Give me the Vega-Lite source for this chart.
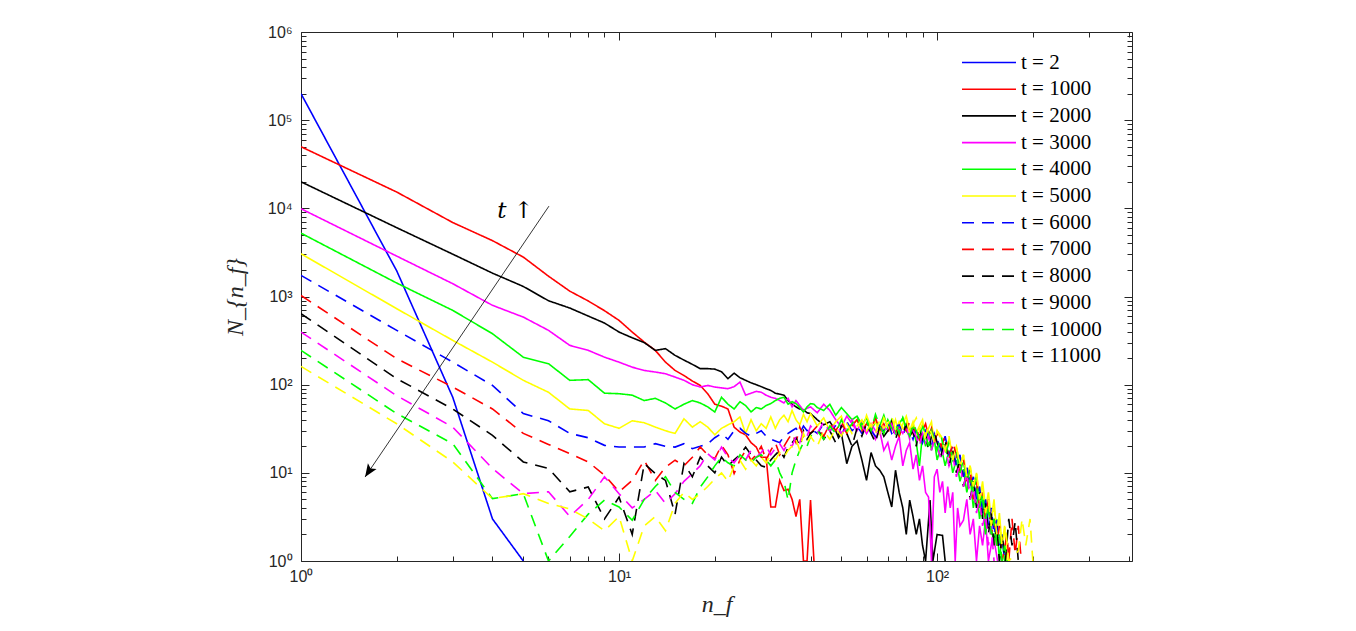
{
"$schema":"https://vega.github.io/schema/vega-lite/v6.json",
"width":831,"height":529,
"autosize":"none",
"padding":{"left":301,"top":32,"right":224,"bottom":70},
"background":"white",
"config":{
 "view":{"stroke":null},
 "axis":{"grid":false,"domainColor":"#262626","tickColor":"#262626","labelColor":"#262626","labelFont":"Liberation Sans","labelFontSize":16,"domainWidth":1,"tickWidth":1,"titleFont":"Liberation Serif","titleFontStyle":"italic","titleFontWeight":"normal","titleFontSize":24,"titleColor":"#262626","labelOverlap":false,"labelFlush":false,"labelBound":false},
 "legend":{"orient":"none","legendX":673.5,"legendY":16,"symbolType":"M-2,0L2,0","symbolSize":729,"symbolStrokeWidth":1.6,"labelFont":"Liberation Serif","labelFontSize":21,"labelColor":"#000000","rowPadding":1.7,"labelOffset":17.5,"padding":0}
},
"datasets":{
"arrow":[{"x0":6.02,"y0":10590,"x1":1.59,"y1":8.96}],
"label":[{"x":4.71,"y":9300,"txt":"t ↑"}],
"curves":[
{"t":2,"n":1,"N":200000},{"t":2,"n":2,"N":1950},{"t":2,"n":3,"N":72},{"t":2,"n":4,"N":3},{"t":2,"n":5,"N":1},
{"t":1000,"n":1,"N":50000},{"t":1000,"n":2,"N":15300},{"t":1000,"n":3,"N":6900},{"t":1000,"n":4,"N":4300},{"t":1000,"n":5,"N":2800},{"t":1000,"n":6,"N":1700},{"t":1000,"n":7,"N":1150},{"t":1000,"n":8,"N":890},{"t":1000,"n":9,"N":690},{"t":1000,"n":10,"N":536},{"t":1000,"n":11,"N":395},{"t":1000,"n":12,"N":304},{"t":1000,"n":13,"N":245},{"t":1000,"n":14,"N":180},{"t":1000,"n":15,"N":145},{"t":1000,"n":16,"N":127},{"t":1000,"n":17,"N":110},{"t":1000,"n":18,"N":98},{"t":1000,"n":19,"N":79},{"t":1000,"n":20,"N":60},{"t":1000,"n":21,"N":57},{"t":1000,"n":22,"N":53},{"t":1000,"n":23,"N":33},{"t":1000,"n":24,"N":29},{"t":1000,"n":25,"N":27},{"t":1000,"n":26,"N":22},{"t":1000,"n":27,"N":19.6},{"t":1000,"n":28,"N":15},{"t":1000,"n":29,"N":15},{"t":1000,"n":30,"N":4.1},{"t":1000,"n":31,"N":4.1},{"t":1000,"n":32,"N":8.2},{"t":1000,"n":33,"N":6.3},{"t":1000,"n":34,"N":6.5},{"t":1000,"n":35,"N":5},{"t":1000,"n":36,"N":3.2},{"t":1000,"n":37,"N":5},{"t":1000,"n":38,"N":1},{"t":1000,"n":39,"N":1},{"t":1000,"n":40,"N":4.9},{"t":1000,"n":41,"N":1},
{"t":2000,"n":1,"N":20000},{"t":2000,"n":2,"N":6030},{"t":2000,"n":3,"N":3020},{"t":2000,"n":4,"N":1840},{"t":2000,"n":5,"N":1300},{"t":2000,"n":6,"N":895},{"t":2000,"n":7,"N":740},{"t":2000,"n":8,"N":600},{"t":2000,"n":9,"N":500},{"t":2000,"n":10,"N":395},{"t":2000,"n":11,"N":340},{"t":2000,"n":12,"N":300},{"t":2000,"n":13,"N":245},{"t":2000,"n":14,"N":256},{"t":2000,"n":15,"N":215},{"t":2000,"n":16,"N":190},{"t":2000,"n":17,"N":170},{"t":2000,"n":18,"N":152},{"t":2000,"n":19,"N":152},{"t":2000,"n":20,"N":150},{"t":2000,"n":21,"N":140},{"t":2000,"n":22,"N":117},{"t":2000,"n":23,"N":135},{"t":2000,"n":24,"N":120},{"t":2000,"n":25,"N":112},{"t":2000,"n":26,"N":105},{"t":2000,"n":27,"N":100},{"t":2000,"n":28,"N":95},{"t":2000,"n":29,"N":90},{"t":2000,"n":30,"N":86},{"t":2000,"n":31,"N":80},{"t":2000,"n":32,"N":78},{"t":2000,"n":33,"N":76},{"t":2000,"n":34,"N":66},{"t":2000,"n":35,"N":60},{"t":2000,"n":36,"N":56},{"t":2000,"n":37,"N":53},{"t":2000,"n":38,"N":52},{"t":2000,"n":39,"N":48},{"t":2000,"n":40,"N":47},{"t":2000,"n":42,"N":40},{"t":2000,"n":44,"N":35},{"t":2000,"n":46,"N":38},{"t":2000,"n":48,"N":30},{"t":2000,"n":49,"N":25},{"t":2000,"n":50,"N":28},{"t":2000,"n":52,"N":12.7},{"t":2000,"n":54,"N":20},{"t":2000,"n":56,"N":23},{"t":2000,"n":58,"N":14},{"t":2000,"n":60,"N":8.2},{"t":2000,"n":62,"N":17},{"t":2000,"n":64,"N":12},{"t":2000,"n":66,"N":10.7},{"t":2000,"n":68,"N":9},{"t":2000,"n":70,"N":6},{"t":2000,"n":72,"N":4.1},{"t":2000,"n":74,"N":10.7},{"t":2000,"n":76,"N":6},{"t":2000,"n":78,"N":4},{"t":2000,"n":80,"N":2},{"t":2000,"n":82,"N":4.9},{"t":2000,"n":84,"N":3.2},{"t":2000,"n":86,"N":2},{"t":2000,"n":88,"N":3},{"t":2000,"n":90,"N":1.5},{"t":2000,"n":92,"N":1},{"t":2000,"n":95,"N":4.9},{"t":2000,"n":97,"N":1},{"t":2000,"n":100,"N":2},{"t":2000,"n":104,"N":1.95},{"t":2000,"n":106,"N":1},
{"t":3000,"n":1,"N":9900},{"t":3000,"n":2,"N":2870},{"t":3000,"n":3,"N":1397},{"t":3000,"n":4,"N":794},{"t":3000,"n":5,"N":584},{"t":3000,"n":6,"N":413},{"t":3000,"n":7,"N":279},{"t":3000,"n":8,"N":245},{"t":3000,"n":9,"N":205},{"t":3000,"n":10,"N":180},{"t":3000,"n":11,"N":158},{"t":3000,"n":12,"N":145},{"t":3000,"n":13,"N":139},{"t":3000,"n":14,"N":133},{"t":3000,"n":15,"N":122},{"t":3000,"n":16,"N":112},{"t":3000,"n":17,"N":100},{"t":3000,"n":18,"N":94},{"t":3000,"n":19,"N":98},{"t":3000,"n":20,"N":94},{"t":3000,"n":21,"N":92},{"t":3000,"n":22,"N":90},{"t":3000,"n":23,"N":95},{"t":3000,"n":24,"N":107},{"t":3000,"n":25,"N":76},{"t":3000,"n":26,"N":80},{"t":3000,"n":27,"N":84},{"t":3000,"n":28,"N":82},{"t":3000,"n":29,"N":76},{"t":3000,"n":30,"N":72},{"t":3000,"n":31,"N":70},{"t":3000,"n":32,"N":66},{"t":3000,"n":33,"N":62},{"t":3000,"n":34,"N":70},{"t":3000,"n":35,"N":56},{"t":3000,"n":36,"N":66},{"t":3000,"n":37,"N":58},{"t":3000,"n":38,"N":51},{"t":3000,"n":39,"N":54},{"t":3000,"n":40,"N":56},{"t":3000,"n":42,"N":48},{"t":3000,"n":44,"N":60},{"t":3000,"n":46,"N":51},{"t":3000,"n":48,"N":40},{"t":3000,"n":50,"N":33},{"t":3000,"n":52,"N":44},{"t":3000,"n":54,"N":36},{"t":3000,"n":56,"N":30},{"t":3000,"n":58,"N":38},{"t":3000,"n":60,"N":28},{"t":3000,"n":62,"N":34},{"t":3000,"n":64,"N":24},{"t":3000,"n":66,"N":30},{"t":3000,"n":68,"N":18},{"t":3000,"n":70,"N":22},{"t":3000,"n":72,"N":14},{"t":3000,"n":74,"N":20},{"t":3000,"n":76,"N":26},{"t":3000,"n":78,"N":12},{"t":3000,"n":80,"N":18},{"t":3000,"n":82,"N":22},{"t":3000,"n":84,"N":11},{"t":3000,"n":86,"N":16},{"t":3000,"n":88,"N":8.2},{"t":3000,"n":90,"N":12},{"t":3000,"n":92,"N":6},{"t":3000,"n":94,"N":5.3},{"t":3000,"n":96,"N":1},{"t":3000,"n":98,"N":9},{"t":3000,"n":100,"N":11},{"t":3000,"n":102,"N":6},{"t":3000,"n":104,"N":8},{"t":3000,"n":106,"N":3.5},{"t":3000,"n":108,"N":7},{"t":3000,"n":110,"N":4},{"t":3000,"n":112,"N":6},{"t":3000,"n":114,"N":1},{"t":3000,"n":116,"N":4},{"t":3000,"n":118,"N":2.5},{"t":3000,"n":121,"N":2.9},{"t":3000,"n":124,"N":5},{"t":3000,"n":127,"N":2},{"t":3000,"n":130,"N":3},{"t":3000,"n":133,"N":1},{"t":3000,"n":136,"N":2.5},{"t":3000,"n":139,"N":1.5},{"t":3000,"n":142,"N":3},{"t":3000,"n":145,"N":1},{"t":3000,"n":150,"N":2},{"t":3000,"n":155,"N":1},
{"t":4000,"n":1,"N":5230},{"t":4000,"n":2,"N":1420},{"t":4000,"n":3,"N":696},{"t":4000,"n":4,"N":378},{"t":4000,"n":5,"N":205},{"t":4000,"n":6,"N":173},{"t":4000,"n":7,"N":112},{"t":4000,"n":8,"N":114},{"t":4000,"n":9,"N":80},{"t":4000,"n":10,"N":79},{"t":4000,"n":11,"N":76},{"t":4000,"n":12,"N":66},{"t":4000,"n":13,"N":70},{"t":4000,"n":14,"N":62},{"t":4000,"n":15,"N":53},{"t":4000,"n":16,"N":60},{"t":4000,"n":17,"N":66},{"t":4000,"n":18,"N":62},{"t":4000,"n":19,"N":56},{"t":4000,"n":20,"N":49},{"t":4000,"n":21,"N":72},{"t":4000,"n":22,"N":60},{"t":4000,"n":23,"N":53},{"t":4000,"n":24,"N":64},{"t":4000,"n":25,"N":58},{"t":4000,"n":26,"N":49},{"t":4000,"n":27,"N":55},{"t":4000,"n":28,"N":53},{"t":4000,"n":29,"N":58},{"t":4000,"n":30,"N":61},{"t":4000,"n":31,"N":66},{"t":4000,"n":32,"N":70},{"t":4000,"n":33,"N":72},{"t":4000,"n":34,"N":60},{"t":4000,"n":35,"N":64},{"t":4000,"n":36,"N":61},{"t":4000,"n":37,"N":55},{"t":4000,"n":38,"N":49},{"t":4000,"n":39,"N":56},{"t":4000,"n":40,"N":61},{"t":4000,"n":41,"N":60},{"t":4000,"n":42,"N":55},{"t":4000,"n":44,"N":51},{"t":4000,"n":46,"N":60},{"t":4000,"n":48,"N":45},{"t":4000,"n":50,"N":55},{"t":4000,"n":52,"N":47},{"t":4000,"n":54,"N":40},{"t":4000,"n":56,"N":44},{"t":4000,"n":58,"N":35},{"t":4000,"n":60,"N":42},{"t":4000,"n":62,"N":30},{"t":4000,"n":64,"N":38},{"t":4000,"n":66,"N":34},{"t":4000,"n":68,"N":45},{"t":4000,"n":70,"N":32},{"t":4000,"n":72,"N":40},{"t":4000,"n":74,"N":28},{"t":4000,"n":76,"N":36},{"t":4000,"n":78,"N":42},{"t":4000,"n":80,"N":30},{"t":4000,"n":82,"N":26},{"t":4000,"n":84,"N":34},{"t":4000,"n":86,"N":22},{"t":4000,"n":88,"N":12},{"t":4000,"n":90,"N":28},{"t":4000,"n":92,"N":20},{"t":4000,"n":94,"N":30},{"t":4000,"n":96,"N":18},{"t":4000,"n":98,"N":24},{"t":4000,"n":100,"N":14},{"t":4000,"n":103,"N":20},{"t":4000,"n":106,"N":12},{"t":4000,"n":109,"N":18},{"t":4000,"n":112,"N":10},{"t":4000,"n":115,"N":14},{"t":4000,"n":118,"N":8},{"t":4000,"n":121,"N":11},{"t":4000,"n":124,"N":6},{"t":4000,"n":127,"N":9},{"t":4000,"n":130,"N":4},{"t":4000,"n":133,"N":7},{"t":4000,"n":136,"N":3},{"t":4000,"n":139,"N":5},{"t":4000,"n":142,"N":2},{"t":4000,"n":145,"N":4},{"t":4000,"n":148,"N":2.5},{"t":4000,"n":151,"N":1.5},{"t":4000,"n":154,"N":3},{"t":4000,"n":157,"N":1},{"t":4000,"n":160,"N":2},{"t":4000,"n":163,"N":1},
{"t":5000,"n":1,"N":3055},{"t":5000,"n":2,"N":727},{"t":5000,"n":3,"N":318},{"t":5000,"n":4,"N":180},{"t":5000,"n":5,"N":112},{"t":5000,"n":6,"N":82},{"t":5000,"n":7,"N":53},{"t":5000,"n":8,"N":51},{"t":5000,"n":9,"N":36},{"t":5000,"n":10,"N":32},{"t":5000,"n":11,"N":39},{"t":5000,"n":12,"N":37},{"t":5000,"n":13,"N":33},{"t":5000,"n":14,"N":30},{"t":5000,"n":15,"N":28},{"t":5000,"n":16,"N":41},{"t":5000,"n":17,"N":33},{"t":5000,"n":18,"N":38},{"t":5000,"n":19,"N":33},{"t":5000,"n":20,"N":27},{"t":5000,"n":21,"N":32},{"t":5000,"n":22,"N":35},{"t":5000,"n":23,"N":38},{"t":5000,"n":24,"N":43},{"t":5000,"n":25,"N":28},{"t":5000,"n":26,"N":40},{"t":5000,"n":27,"N":30},{"t":5000,"n":28,"N":36},{"t":5000,"n":29,"N":32},{"t":5000,"n":30,"N":43},{"t":5000,"n":31,"N":32},{"t":5000,"n":32,"N":40},{"t":5000,"n":33,"N":45},{"t":5000,"n":34,"N":38},{"t":5000,"n":35,"N":51},{"t":5000,"n":36,"N":40},{"t":5000,"n":37,"N":35},{"t":5000,"n":38,"N":46},{"t":5000,"n":39,"N":38},{"t":5000,"n":40,"N":47},{"t":5000,"n":42,"N":34},{"t":5000,"n":44,"N":42},{"t":5000,"n":46,"N":30},{"t":5000,"n":48,"N":38},{"t":5000,"n":50,"N":44},{"t":5000,"n":52,"N":28},{"t":5000,"n":54,"N":36},{"t":5000,"n":56,"N":40},{"t":5000,"n":58,"N":30},{"t":5000,"n":60,"N":45},{"t":5000,"n":62,"N":33},{"t":5000,"n":64,"N":38},{"t":5000,"n":66,"N":28},{"t":5000,"n":68,"N":42},{"t":5000,"n":70,"N":34},{"t":5000,"n":72,"N":30},{"t":5000,"n":74,"N":40},{"t":5000,"n":76,"N":26},{"t":5000,"n":78,"N":36},{"t":5000,"n":80,"N":44},{"t":5000,"n":82,"N":30},{"t":5000,"n":84,"N":38},{"t":5000,"n":86,"N":28},{"t":5000,"n":88,"N":34},{"t":5000,"n":90,"N":40},{"t":5000,"n":92,"N":24},{"t":5000,"n":94,"N":32},{"t":5000,"n":96,"N":38},{"t":5000,"n":98,"N":22},{"t":5000,"n":100,"N":30},{"t":5000,"n":103,"N":26},{"t":5000,"n":106,"N":18},{"t":5000,"n":109,"N":24},{"t":5000,"n":112,"N":16},{"t":5000,"n":115,"N":20},{"t":5000,"n":118,"N":12},{"t":5000,"n":121,"N":16},{"t":5000,"n":124,"N":9},{"t":5000,"n":127,"N":12},{"t":5000,"n":130,"N":7},{"t":5000,"n":133,"N":10},{"t":5000,"n":136,"N":5},{"t":5000,"n":139,"N":8},{"t":5000,"n":142,"N":4},{"t":5000,"n":145,"N":6},{"t":5000,"n":148,"N":3},{"t":5000,"n":151,"N":5},{"t":5000,"n":154,"N":2},{"t":5000,"n":157,"N":3.5},{"t":5000,"n":160,"N":1.5},{"t":5000,"n":163,"N":2.5},{"t":5000,"n":166,"N":1},
{"t":6000,"n":1,"N":1735},{"t":6000,"n":2,"N":413},{"t":6000,"n":3,"N":180},{"t":6000,"n":4,"N":98},{"t":6000,"n":5,"N":47},{"t":6000,"n":6,"N":39},{"t":6000,"n":7,"N":28},{"t":6000,"n":8,"N":25},{"t":6000,"n":9,"N":20.5},{"t":6000,"n":10,"N":19.6},{"t":6000,"n":11,"N":19.6},{"t":6000,"n":12,"N":19.6},{"t":6000,"n":13,"N":21.4},{"t":6000,"n":14,"N":20},{"t":6000,"n":15,"N":19.6},{"t":6000,"n":16,"N":21.4},{"t":6000,"n":17,"N":18.8},{"t":6000,"n":18,"N":20},{"t":6000,"n":19,"N":21.4},{"t":6000,"n":20,"N":25},{"t":6000,"n":21,"N":28},{"t":6000,"n":22,"N":24},{"t":6000,"n":23,"N":30},{"t":6000,"n":24,"N":32},{"t":6000,"n":25,"N":28},{"t":6000,"n":26,"N":26},{"t":6000,"n":27,"N":28},{"t":6000,"n":28,"N":30},{"t":6000,"n":29,"N":26},{"t":6000,"n":30,"N":24},{"t":6000,"n":31,"N":23},{"t":6000,"n":32,"N":22},{"t":6000,"n":33,"N":26},{"t":6000,"n":34,"N":28},{"t":6000,"n":35,"N":30},{"t":6000,"n":36,"N":32},{"t":6000,"n":37,"N":28},{"t":6000,"n":38,"N":34},{"t":6000,"n":39,"N":30},{"t":6000,"n":40,"N":32},{"t":6000,"n":42,"N":28},{"t":6000,"n":44,"N":36},{"t":6000,"n":46,"N":30},{"t":6000,"n":48,"N":34},{"t":6000,"n":50,"N":26},{"t":6000,"n":52,"N":38},{"t":6000,"n":54,"N":30},{"t":6000,"n":56,"N":34},{"t":6000,"n":58,"N":28},{"t":6000,"n":60,"N":36},{"t":6000,"n":62,"N":30},{"t":6000,"n":64,"N":26},{"t":6000,"n":66,"N":34},{"t":6000,"n":68,"N":30},{"t":6000,"n":70,"N":38},{"t":6000,"n":72,"N":28},{"t":6000,"n":74,"N":32},{"t":6000,"n":76,"N":36},{"t":6000,"n":78,"N":26},{"t":6000,"n":80,"N":34},{"t":6000,"n":82,"N":30},{"t":6000,"n":84,"N":24},{"t":6000,"n":86,"N":32},{"t":6000,"n":88,"N":28},{"t":6000,"n":90,"N":22},{"t":6000,"n":92,"N":30},{"t":6000,"n":94,"N":26},{"t":6000,"n":96,"N":20},{"t":6000,"n":98,"N":28},{"t":6000,"n":100,"N":24},{"t":6000,"n":103,"N":18},{"t":6000,"n":106,"N":26},{"t":6000,"n":109,"N":16},{"t":6000,"n":112,"N":20},{"t":6000,"n":115,"N":12},{"t":6000,"n":118,"N":16},{"t":6000,"n":121,"N":9},{"t":6000,"n":124,"N":12},{"t":6000,"n":127,"N":7},{"t":6000,"n":130,"N":9},{"t":6000,"n":133,"N":5},{"t":6000,"n":136,"N":7},{"t":6000,"n":139,"N":3.5},{"t":6000,"n":142,"N":5},{"t":6000,"n":145,"N":2.5},{"t":6000,"n":148,"N":4},{"t":6000,"n":151,"N":2},{"t":6000,"n":154,"N":3},{"t":6000,"n":157,"N":1.5},{"t":6000,"n":160,"N":2},{"t":6000,"n":163,"N":1},
{"t":7000,"n":1,"N":1028},{"t":7000,"n":2,"N":197},{"t":7000,"n":3,"N":94},{"t":7000,"n":4,"N":53},{"t":7000,"n":5,"N":28},{"t":7000,"n":6,"N":21},{"t":7000,"n":7,"N":16.5},{"t":7000,"n":8,"N":13.3},{"t":7000,"n":9,"N":9.4},{"t":7000,"n":10,"N":6.1},{"t":7000,"n":11,"N":8.2},{"t":7000,"n":12,"N":13.9},{"t":7000,"n":13,"N":8.2},{"t":7000,"n":14,"N":11.6},{"t":7000,"n":15,"N":13.9},{"t":7000,"n":16,"N":12},{"t":7000,"n":17,"N":15},{"t":7000,"n":18,"N":19.6},{"t":7000,"n":19,"N":16},{"t":7000,"n":20,"N":14.5},{"t":7000,"n":21,"N":20.5},{"t":7000,"n":22,"N":16},{"t":7000,"n":23,"N":9.8},{"t":7000,"n":24,"N":14},{"t":7000,"n":25,"N":18},{"t":7000,"n":26,"N":13.9},{"t":7000,"n":27,"N":16},{"t":7000,"n":28,"N":20},{"t":7000,"n":29,"N":14},{"t":7000,"n":30,"N":18},{"t":7000,"n":31,"N":22},{"t":7000,"n":32,"N":16},{"t":7000,"n":33,"N":20},{"t":7000,"n":34,"N":24},{"t":7000,"n":35,"N":28},{"t":7000,"n":36,"N":22},{"t":7000,"n":37,"N":33},{"t":7000,"n":38,"N":26},{"t":7000,"n":39,"N":30},{"t":7000,"n":40,"N":28},{"t":7000,"n":42,"N":34},{"t":7000,"n":44,"N":26},{"t":7000,"n":46,"N":36},{"t":7000,"n":48,"N":30},{"t":7000,"n":50,"N":38},{"t":7000,"n":52,"N":28},{"t":7000,"n":54,"N":34},{"t":7000,"n":56,"N":40},{"t":7000,"n":58,"N":30},{"t":7000,"n":60,"N":36},{"t":7000,"n":62,"N":32},{"t":7000,"n":64,"N":42},{"t":7000,"n":66,"N":30},{"t":7000,"n":68,"N":36},{"t":7000,"n":70,"N":28},{"t":7000,"n":72,"N":38},{"t":7000,"n":74,"N":32},{"t":7000,"n":76,"N":26},{"t":7000,"n":78,"N":34},{"t":7000,"n":80,"N":30},{"t":7000,"n":82,"N":38},{"t":7000,"n":84,"N":28},{"t":7000,"n":86,"N":34},{"t":7000,"n":88,"N":24},{"t":7000,"n":90,"N":30},{"t":7000,"n":92,"N":36},{"t":7000,"n":94,"N":26},{"t":7000,"n":96,"N":32},{"t":7000,"n":98,"N":22},{"t":7000,"n":100,"N":28},{"t":7000,"n":103,"N":20},{"t":7000,"n":106,"N":26},{"t":7000,"n":109,"N":14},{"t":7000,"n":112,"N":22},{"t":7000,"n":115,"N":16},{"t":7000,"n":118,"N":10},{"t":7000,"n":121,"N":14},{"t":7000,"n":124,"N":8},{"t":7000,"n":127,"N":11},{"t":7000,"n":130,"N":5},{"t":7000,"n":133,"N":8},{"t":7000,"n":136,"N":4},{"t":7000,"n":139,"N":6},{"t":7000,"n":142,"N":3},{"t":7000,"n":145,"N":5},{"t":7000,"n":148,"N":2},{"t":7000,"n":151,"N":3},{"t":7000,"n":154,"N":1.5},{"t":7000,"n":157,"N":2.5},{"t":7000,"n":160,"N":1},{"t":7000,"n":166,"N":2},{"t":7000,"n":168,"N":1},{"t":7000,"n":172,"N":3},{"t":7000,"n":176,"N":1.2},{"t":7000,"n":180,"N":2.5},{"t":7000,"n":184,"N":1},
{"t":8000,"n":1,"N":638},{"t":8000,"n":2,"N":117},{"t":8000,"n":3,"N":53},{"t":8000,"n":4,"N":26.6},{"t":8000,"n":5,"N":13.3},{"t":8000,"n":6,"N":11.2},{"t":8000,"n":7,"N":6.1},{"t":8000,"n":8,"N":6.9},{"t":8000,"n":9,"N":3},{"t":8000,"n":10,"N":5.3},{"t":8000,"n":11,"N":2},{"t":8000,"n":12,"N":12.7},{"t":8000,"n":13,"N":9.8},{"t":8000,"n":14,"N":8.2},{"t":8000,"n":15,"N":3.4},{"t":8000,"n":16,"N":12.7},{"t":8000,"n":17,"N":9},{"t":8000,"n":18,"N":15.1},{"t":8000,"n":19,"N":12},{"t":8000,"n":20,"N":10},{"t":8000,"n":21,"N":15.1},{"t":8000,"n":22,"N":12},{"t":8000,"n":23,"N":14},{"t":8000,"n":24,"N":16},{"t":8000,"n":25,"N":19.6},{"t":8000,"n":26,"N":16},{"t":8000,"n":27,"N":14},{"t":8000,"n":28,"N":12},{"t":8000,"n":29,"N":11.6},{"t":8000,"n":30,"N":14},{"t":8000,"n":31,"N":16},{"t":8000,"n":32,"N":18},{"t":8000,"n":33,"N":15},{"t":8000,"n":34,"N":19.6},{"t":8000,"n":35,"N":22},{"t":8000,"n":36,"N":25},{"t":8000,"n":37,"N":20},{"t":8000,"n":38,"N":30},{"t":8000,"n":39,"N":24},{"t":8000,"n":40,"N":28},{"t":8000,"n":42,"N":32},{"t":8000,"n":44,"N":24},{"t":8000,"n":46,"N":30},{"t":8000,"n":48,"N":22},{"t":8000,"n":50,"N":34},{"t":8000,"n":52,"N":28},{"t":8000,"n":54,"N":20},{"t":8000,"n":56,"N":32},{"t":8000,"n":58,"N":26},{"t":8000,"n":60,"N":36},{"t":8000,"n":62,"N":28},{"t":8000,"n":64,"N":22},{"t":8000,"n":66,"N":34},{"t":8000,"n":68,"N":26},{"t":8000,"n":70,"N":30},{"t":8000,"n":72,"N":38},{"t":8000,"n":74,"N":24},{"t":8000,"n":76,"N":32},{"t":8000,"n":78,"N":28},{"t":8000,"n":80,"N":36},{"t":8000,"n":82,"N":26},{"t":8000,"n":84,"N":30},{"t":8000,"n":86,"N":20},{"t":8000,"n":88,"N":32},{"t":8000,"n":90,"N":24},{"t":8000,"n":92,"N":28},{"t":8000,"n":94,"N":18},{"t":8000,"n":96,"N":26},{"t":8000,"n":98,"N":30},{"t":8000,"n":100,"N":22},{"t":8000,"n":103,"N":16},{"t":8000,"n":106,"N":24},{"t":8000,"n":109,"N":12},{"t":8000,"n":112,"N":18},{"t":8000,"n":115,"N":10},{"t":8000,"n":118,"N":14},{"t":8000,"n":121,"N":7},{"t":8000,"n":124,"N":10},{"t":8000,"n":127,"N":5},{"t":8000,"n":130,"N":8},{"t":8000,"n":133,"N":4},{"t":8000,"n":136,"N":6},{"t":8000,"n":139,"N":3},{"t":8000,"n":142,"N":4.5},{"t":8000,"n":145,"N":2},{"t":8000,"n":148,"N":3.5},{"t":8000,"n":151,"N":1.5},{"t":8000,"n":154,"N":2.5},{"t":8000,"n":157,"N":1},{"t":8000,"n":160,"N":2},{"t":8000,"n":164,"N":1},{"t":8000,"n":168,"N":3},{"t":8000,"n":172,"N":1.5},{"t":8000,"n":176,"N":2.8},{"t":8000,"n":180,"N":1},
{"t":9000,"n":1,"N":395},{"t":9000,"n":2,"N":75},{"t":9000,"n":3,"N":33},{"t":9000,"n":4,"N":11.2},{"t":9000,"n":5,"N":5.8},{"t":9000,"n":6,"N":6.1},{"t":9000,"n":7,"N":3.2},{"t":9000,"n":8,"N":5},{"t":9000,"n":9,"N":9},{"t":9000,"n":10,"N":5.8},{"t":9000,"n":11,"N":4},{"t":9000,"n":12,"N":5},{"t":9000,"n":13,"N":6.3},{"t":9000,"n":14,"N":4.5},{"t":9000,"n":15,"N":5.8},{"t":9000,"n":16,"N":8},{"t":9000,"n":17,"N":9.8},{"t":9000,"n":18,"N":12},{"t":9000,"n":19,"N":16.5},{"t":9000,"n":20,"N":14},{"t":9000,"n":21,"N":19.6},{"t":9000,"n":22,"N":15},{"t":9000,"n":23,"N":13},{"t":9000,"n":24,"N":16},{"t":9000,"n":25,"N":14},{"t":9000,"n":26,"N":18},{"t":9000,"n":27,"N":15},{"t":9000,"n":28,"N":17},{"t":9000,"n":29,"N":20},{"t":9000,"n":30,"N":16},{"t":9000,"n":31,"N":19},{"t":9000,"n":32,"N":21.4},{"t":9000,"n":33,"N":18},{"t":9000,"n":34,"N":22},{"t":9000,"n":35,"N":20},{"t":9000,"n":36,"N":26},{"t":9000,"n":37,"N":22},{"t":9000,"n":38,"N":30},{"t":9000,"n":39,"N":26},{"t":9000,"n":40,"N":34},{"t":9000,"n":42,"N":28},{"t":9000,"n":44,"N":38},{"t":9000,"n":46,"N":30},{"t":9000,"n":48,"N":36},{"t":9000,"n":50,"N":28},{"t":9000,"n":52,"N":32},{"t":9000,"n":54,"N":40},{"t":9000,"n":56,"N":30},{"t":9000,"n":58,"N":34},{"t":9000,"n":60,"N":28},{"t":9000,"n":62,"N":36},{"t":9000,"n":64,"N":30},{"t":9000,"n":66,"N":26},{"t":9000,"n":68,"N":34},{"t":9000,"n":70,"N":30},{"t":9000,"n":72,"N":36},{"t":9000,"n":74,"N":26},{"t":9000,"n":76,"N":32},{"t":9000,"n":78,"N":28},{"t":9000,"n":80,"N":34},{"t":9000,"n":82,"N":24},{"t":9000,"n":84,"N":30},{"t":9000,"n":86,"N":26},{"t":9000,"n":88,"N":20},{"t":9000,"n":90,"N":28},{"t":9000,"n":92,"N":22},{"t":9000,"n":94,"N":26},{"t":9000,"n":96,"N":18},{"t":9000,"n":98,"N":24},{"t":9000,"n":100,"N":20},{"t":9000,"n":103,"N":14},{"t":9000,"n":106,"N":20},{"t":9000,"n":109,"N":12},{"t":9000,"n":112,"N":16},{"t":9000,"n":115,"N":9},{"t":9000,"n":118,"N":13},{"t":9000,"n":121,"N":7},{"t":9000,"n":124,"N":10},{"t":9000,"n":127,"N":5},{"t":9000,"n":130,"N":7},{"t":9000,"n":133,"N":3.5},{"t":9000,"n":136,"N":5},{"t":9000,"n":139,"N":2.5},{"t":9000,"n":142,"N":3.5},{"t":9000,"n":145,"N":1.5},{"t":9000,"n":148,"N":2.5},{"t":9000,"n":151,"N":1},
{"t":10000,"n":1,"N":245},{"t":10000,"n":2,"N":47},{"t":10000,"n":3,"N":21.4},{"t":10000,"n":4,"N":5.1},{"t":10000,"n":5,"N":5.8},{"t":10000,"n":6,"N":1},{"t":10000,"n":7,"N":1.9},{"t":10000,"n":8,"N":3.4},{"t":10000,"n":9,"N":4.9},{"t":10000,"n":10,"N":4.1},{"t":10000,"n":11,"N":2.9},{"t":10000,"n":12,"N":5},{"t":10000,"n":13,"N":7},{"t":10000,"n":14,"N":9},{"t":10000,"n":15,"N":6},{"t":10000,"n":16,"N":5},{"t":10000,"n":17,"N":4.5},{"t":10000,"n":18,"N":6.9},{"t":10000,"n":19,"N":9},{"t":10000,"n":20,"N":12},{"t":10000,"n":21,"N":15},{"t":10000,"n":22,"N":13},{"t":10000,"n":23,"N":12},{"t":10000,"n":24,"N":16},{"t":10000,"n":25,"N":14},{"t":10000,"n":26,"N":13},{"t":10000,"n":27,"N":15},{"t":10000,"n":28,"N":16},{"t":10000,"n":29,"N":14},{"t":10000,"n":30,"N":12},{"t":10000,"n":31,"N":14},{"t":10000,"n":32,"N":10},{"t":10000,"n":33,"N":8},{"t":10000,"n":34,"N":4.9},{"t":10000,"n":35,"N":10},{"t":10000,"n":36,"N":14},{"t":10000,"n":37,"N":18},{"t":10000,"n":38,"N":22},{"t":10000,"n":39,"N":20},{"t":10000,"n":40,"N":26},{"t":10000,"n":42,"N":30},{"t":10000,"n":44,"N":24},{"t":10000,"n":46,"N":34},{"t":10000,"n":48,"N":28},{"t":10000,"n":50,"N":40},{"t":10000,"n":52,"N":30},{"t":10000,"n":54,"N":36},{"t":10000,"n":56,"N":44},{"t":10000,"n":58,"N":32},{"t":10000,"n":60,"N":38},{"t":10000,"n":62,"N":30},{"t":10000,"n":64,"N":46},{"t":10000,"n":66,"N":34},{"t":10000,"n":68,"N":28},{"t":10000,"n":70,"N":40},{"t":10000,"n":72,"N":32},{"t":10000,"n":74,"N":36},{"t":10000,"n":76,"N":28},{"t":10000,"n":78,"N":42},{"t":10000,"n":80,"N":32},{"t":10000,"n":82,"N":26},{"t":10000,"n":84,"N":36},{"t":10000,"n":86,"N":30},{"t":10000,"n":88,"N":24},{"t":10000,"n":90,"N":34},{"t":10000,"n":92,"N":28},{"t":10000,"n":94,"N":20},{"t":10000,"n":96,"N":30},{"t":10000,"n":98,"N":24},{"t":10000,"n":100,"N":18},{"t":10000,"n":103,"N":26},{"t":10000,"n":106,"N":16},{"t":10000,"n":109,"N":22},{"t":10000,"n":112,"N":14},{"t":10000,"n":115,"N":18},{"t":10000,"n":118,"N":10},{"t":10000,"n":121,"N":14},{"t":10000,"n":124,"N":8},{"t":10000,"n":127,"N":11},{"t":10000,"n":130,"N":6},{"t":10000,"n":133,"N":9},{"t":10000,"n":136,"N":4},{"t":10000,"n":139,"N":6},{"t":10000,"n":142,"N":3},{"t":10000,"n":145,"N":4.5},{"t":10000,"n":148,"N":2},{"t":10000,"n":151,"N":3},{"t":10000,"n":154,"N":1.5},{"t":10000,"n":157,"N":2},{"t":10000,"n":160,"N":1},{"t":10000,"n":163,"N":1.5},{"t":10000,"n":166,"N":1},
{"t":11000,"n":1,"N":161},{"t":11000,"n":2,"N":36},{"t":11000,"n":3,"N":13.3},{"t":11000,"n":4,"N":5.1},{"t":11000,"n":5,"N":5.8},{"t":11000,"n":6,"N":4.5},{"t":11000,"n":7,"N":3.9},{"t":11000,"n":8,"N":3},{"t":11000,"n":9,"N":2.2},{"t":11000,"n":10,"N":3.2},{"t":11000,"n":11,"N":1},{"t":11000,"n":12,"N":2.5},{"t":11000,"n":13,"N":3.2},{"t":11000,"n":14,"N":2.2},{"t":11000,"n":15,"N":4.5},{"t":11000,"n":16,"N":6},{"t":11000,"n":17,"N":5},{"t":11000,"n":18,"N":5.8},{"t":11000,"n":19,"N":7},{"t":11000,"n":20,"N":8.5},{"t":11000,"n":21,"N":10},{"t":11000,"n":22,"N":8},{"t":11000,"n":23,"N":12},{"t":11000,"n":24,"N":13.9},{"t":11000,"n":25,"N":11},{"t":11000,"n":26,"N":14},{"t":11000,"n":27,"N":12},{"t":11000,"n":28,"N":15},{"t":11000,"n":29,"N":13},{"t":11000,"n":30,"N":16},{"t":11000,"n":31,"N":14},{"t":11000,"n":32,"N":17},{"t":11000,"n":33,"N":15},{"t":11000,"n":34,"N":18},{"t":11000,"n":35,"N":20},{"t":11000,"n":36,"N":24},{"t":11000,"n":37,"N":18},{"t":11000,"n":38,"N":28},{"t":11000,"n":39,"N":22},{"t":11000,"n":40,"N":26},{"t":11000,"n":42,"N":20},{"t":11000,"n":44,"N":30},{"t":11000,"n":46,"N":24},{"t":11000,"n":48,"N":32},{"t":11000,"n":50,"N":26},{"t":11000,"n":52,"N":36},{"t":11000,"n":54,"N":28},{"t":11000,"n":56,"N":34},{"t":11000,"n":58,"N":40},{"t":11000,"n":60,"N":30},{"t":11000,"n":62,"N":36},{"t":11000,"n":64,"N":28},{"t":11000,"n":66,"N":40},{"t":11000,"n":68,"N":32},{"t":11000,"n":70,"N":36},{"t":11000,"n":72,"N":44},{"t":11000,"n":74,"N":30},{"t":11000,"n":76,"N":38},{"t":11000,"n":78,"N":32},{"t":11000,"n":80,"N":40},{"t":11000,"n":82,"N":28},{"t":11000,"n":84,"N":36},{"t":11000,"n":86,"N":42},{"t":11000,"n":88,"N":30},{"t":11000,"n":90,"N":36},{"t":11000,"n":92,"N":26},{"t":11000,"n":94,"N":34},{"t":11000,"n":96,"N":28},{"t":11000,"n":98,"N":22},{"t":11000,"n":100,"N":30},{"t":11000,"n":103,"N":24},{"t":11000,"n":106,"N":18},{"t":11000,"n":109,"N":26},{"t":11000,"n":112,"N":14},{"t":11000,"n":115,"N":20},{"t":11000,"n":118,"N":12},{"t":11000,"n":121,"N":16},{"t":11000,"n":124,"N":9},{"t":11000,"n":127,"N":12},{"t":11000,"n":130,"N":7},{"t":11000,"n":133,"N":10},{"t":11000,"n":136,"N":5},{"t":11000,"n":139,"N":7},{"t":11000,"n":142,"N":3.5},{"t":11000,"n":145,"N":5},{"t":11000,"n":148,"N":2.5},{"t":11000,"n":151,"N":4},{"t":11000,"n":154,"N":2},{"t":11000,"n":157,"N":3},{"t":11000,"n":160,"N":1.5},{"t":11000,"n":164,"N":2.5},{"t":11000,"n":168,"N":1},{"t":11000,"n":180,"N":1.3},{"t":11000,"n":185,"N":3},{"t":11000,"n":190,"N":1.5},{"t":11000,"n":196,"N":3},{"t":11000,"n":200,"N":1}
]
},
"layer":[
{
 "data":{"name":"curves"},
 "mark":{"type":"line","strokeWidth":1.6,"clip":true},
 "encoding":{
  "x":{"field":"n","type":"quantitative","scale":{"type":"log","domain":[1,410],"nice":false},
   "axis":{"orient":"bottom","tickCount":40,"title":"n_f","titlePadding":5,"labelPadding":15,
    "labelExpr":"abs(log(datum.value)/LN10 - round(log(datum.value)/LN10)) < 1e-6 ? '10' + ['⁰','¹','²','³','⁴','⁵','⁶'][round(log(datum.value)/LN10)] : ''",
    "tickSize":{"condition":{"test":"abs(log(datum.value)/LN10 - round(log(datum.value)/LN10)) < 1e-6","value":-8},"value":-5}}},
  "y":{"field":"N","type":"quantitative","scale":{"type":"log","domain":[1,1000000],"nice":false},
   "axis":{"orient":"left","tickCount":60,"title":"N_{n_f}","titlePadding":20,"labelPadding":17,
    "labelExpr":"abs(log(datum.value)/LN10 - round(log(datum.value)/LN10)) < 1e-6 ? '10' + ['⁰','¹','²','³','⁴','⁵','⁶'][round(log(datum.value)/LN10)] : ''",
    "tickSize":{"condition":{"test":"abs(log(datum.value)/LN10 - round(log(datum.value)/LN10)) < 1e-6","value":-8},"value":-5}}},
  "color":{"field":"t","type":"nominal",
   "scale":{"domain":[2,1000,2000,3000,4000,5000,6000,7000,8000,9000,10000,11000],"range":["#0000FF","#FF0000","#000000","#FF00FF","#00FF00","#FFFF00","#0000FF","#FF0000","#000000","#FF00FF","#00FF00","#FFFF00"]},
   "legend":{"title":null,"labelExpr":"'t = ' + datum.label"}},
  "strokeDash":{"field":"t","type":"nominal",
   "scale":{"domain":[2,1000,2000,3000,4000,5000,6000,7000,8000,9000,10000,11000],"range":[[1,0],[1,0],[1,0],[1,0],[1,0],[1,0],[12,8],[12,8],[12,8],[12,8],[12,8],[12,8]]},
   "legend":{"title":null,"labelExpr":"'t = ' + datum.label"}}
 }
},
{
 "data":{"name":"arrow"},
 "mark":{"type":"rule","color":"#000000","strokeWidth":0.8},
 "encoding":{
  "x":{"field":"x0","type":"quantitative","scale":{"type":"log","domain":[1,410],"nice":false},
   "axis":{"orient":"top","tickCount":40,"labels":false,"title":null,
    "tickSize":{"condition":{"test":"abs(log(datum.value)/LN10 - round(log(datum.value)/LN10)) < 1e-6","value":-8},"value":-5}}},
  "x2":{"field":"x1"},
  "y":{"field":"y0","type":"quantitative","scale":{"type":"log","domain":[1,1000000],"nice":false},
   "axis":{"orient":"right","tickCount":60,"labels":false,"title":null,
    "tickSize":{"condition":{"test":"abs(log(datum.value)/LN10 - round(log(datum.value)/LN10)) < 1e-6","value":-8},"value":-5}}},
  "y2":{"field":"y1"}
 }
},
{
 "data":{"name":"arrow"},
 "mark":{"type":"point","shape":"M0,0 L-0.4,1 L0,0.78 L0.4,1 Z","filled":true,"color":"#000000","opacity":1,"size":676,"angle":213.6},
 "encoding":{
  "x":{"field":"x1","type":"quantitative","scale":{"type":"log","domain":[1,410],"nice":false},"axis":null},
  "y":{"field":"y1","type":"quantitative","scale":{"type":"log","domain":[1,1000000],"nice":false},"axis":null}
 }
},
{
 "data":{"name":"label"},
 "mark":{"type":"text","font":"DejaVu Serif","fontStyle":"italic","fontSize":23,"align":"center","baseline":"middle","color":"#000000"},
 "encoding":{
  "x":{"field":"x","type":"quantitative","scale":{"type":"log","domain":[1,410],"nice":false},"axis":null},
  "y":{"field":"y","type":"quantitative","scale":{"type":"log","domain":[1,1000000],"nice":false},"axis":null},
  "text":{"field":"txt"}
 }
}
],
"resolve":{"axis":{"x":"independent","y":"independent"}}
}
